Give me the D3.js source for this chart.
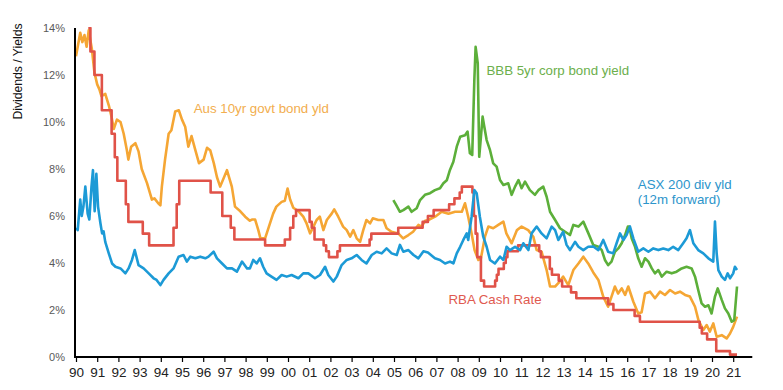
<!DOCTYPE html>
<html>
<head>
<meta charset="utf-8">
<script src="https://cdn.jsdelivr.net/npm/d3@7"></script>
<style>
html,body{margin:0;padding:0;background:#fff;}
svg{display:block;font-family:Arial,"Liberation Sans",sans-serif;}
</style>
</head>
<body>
<svg id="chart" width="783" height="390"></svg>
<script>
// ---- Data (decimal years, % values) ----
const yearTicks = d3.range(1990, 2022);
const yTicks = [0, 2, 4, 6, 8, 10, 12, 14];

const bondDates = [1990.0,1990.1,1990.2,1990.3,1990.4,1990.5,1990.6,1990.75,1990.87,1991.0,1991.1,1991.2,1991.38,1991.55,1991.68,1991.78,1991.93,1992.1,1992.25,1992.4,1992.47,1992.6,1992.8,1992.95,1993.1,1993.35,1993.58,1993.7,1993.87,1993.98,1994.05,1994.2,1994.37,1994.5,1994.68,1994.85,1995.0,1995.15,1995.3,1995.45,1995.63,1995.8,1996.02,1996.18,1996.33,1996.5,1996.65,1996.8,1997.12,1997.35,1997.5,1997.75,1997.98,1998.2,1998.3,1998.45,1998.6,1998.7,1998.92,1999.1,1999.3,1999.45,1999.7,1999.85,1999.98,2000.1,2000.25,2000.5,2000.72,2000.87,2001.04,2001.2,2001.35,2001.5,2001.67,2001.83,2002.06,2002.18,2002.37,2002.6,2002.77,2002.93,2003.08,2003.24,2003.4,2003.55,2003.7,2003.87,2004.0,2004.26,2004.5,2004.65,2004.88,2005.2,2005.43,2005.68,2005.9,2006.15,2006.3,2006.47,2006.62,2006.94,2007.25,2007.57,2007.88,2008.2,2008.35,2008.5,2008.66,2008.8,2008.98,2009.1,2009.29,2009.45,2009.68,2009.92,2010.16,2010.3,2010.55,2010.8,2011.02,2011.33,2011.57,2011.73,2011.96,2012.2,2012.36,2012.6,2012.75,2012.98,2013.22,2013.46,2013.7,2013.93,2014.16,2014.4,2014.64,2014.87,2015.1,2015.26,2015.42,2015.57,2015.74,2015.9,2016.05,2016.29,2016.52,2016.68,2016.84,2017.08,2017.31,2017.55,2017.78,2018.02,2018.26,2018.49,2018.73,2018.96,2019.2,2019.36,2019.59,2019.75,2019.9,2020.06,2020.22,2020.46,2020.69,2020.85,2021.0,2021.18];
const bondValues = [12.8,13.3,13.8,13.4,13.7,13.2,13.9,13.1,12.1,11.6,11.4,11.1,11.2,10.7,10.2,9.7,10.1,10.0,9.5,8.8,8.4,8.95,9.1,8.75,8.0,7.4,6.7,6.75,6.55,6.45,7.25,8.4,9.5,9.65,10.45,10.5,10.1,9.8,8.95,9.4,8.8,8.25,8.4,8.9,8.8,8.25,7.65,7.25,7.95,7.25,6.4,6.2,5.97,5.8,5.85,5.85,5.4,5.05,5.05,5.55,6.1,6.4,6.6,6.65,7.17,6.7,6.35,6.2,5.97,5.7,5.26,5.55,5.83,5.97,5.4,5.83,6.1,6.28,5.97,5.55,5.4,5.12,5.4,5.05,4.9,5.4,5.83,5.69,5.9,5.83,5.83,5.48,5.33,5.26,5.05,5.19,5.33,5.62,5.55,5.8,5.83,5.97,6.18,6.1,6.18,6.18,6.54,5.97,5.26,4.55,4.13,4.2,5.12,5.55,5.48,5.62,5.76,5.26,4.84,5.4,5.55,5.4,5.12,4.55,4.48,3.7,3.0,3.0,3.14,3.42,3.06,3.7,3.98,4.27,3.98,3.6,3.28,2.57,2.14,2.57,3.0,2.7,2.92,2.64,3.0,2.35,1.85,1.9,2.7,2.78,2.5,2.78,2.64,2.85,2.7,2.78,2.64,2.57,2.14,1.57,1.15,1.36,1.08,1.43,0.86,0.93,0.79,1.0,1.28,1.72];

const divDates = [1990.0,1990.08,1990.2,1990.27,1990.35,1990.44,1990.55,1990.63,1990.73,1990.8,1990.88,1990.96,1991.04,1991.15,1991.23,1991.3,1991.38,1991.55,1991.7,1991.86,1992.1,1992.33,1992.48,1992.64,1992.77,1992.95,1993.19,1993.43,1993.66,1993.8,1993.98,1994.13,1994.37,1994.6,1994.84,1995.07,1995.23,1995.39,1995.63,1995.86,1996.1,1996.25,1996.49,1996.65,1996.89,1997.12,1997.36,1997.59,1997.83,1998.07,1998.2,1998.36,1998.52,1998.68,1998.83,1998.99,1999.22,1999.46,1999.7,1999.94,2000.17,2000.49,2000.72,2000.96,2001.27,2001.51,2001.75,2001.9,2002.14,2002.3,2002.53,2002.77,2003.0,2003.24,2003.47,2003.7,2003.95,2004.18,2004.42,2004.65,2004.89,2005.13,2005.28,2005.44,2005.68,2005.92,2006.15,2006.39,2006.6,2006.8,2006.93,2007.17,2007.41,2007.64,2007.8,2007.96,2008.12,2008.27,2008.43,2008.5,2008.66,2008.79,2008.9,2009.05,2009.21,2009.37,2009.53,2009.76,2010.0,2010.16,2010.31,2010.47,2010.71,2010.95,2011.1,2011.34,2011.49,2011.73,2011.96,2012.2,2012.44,2012.6,2012.75,2012.98,2013.14,2013.3,2013.54,2013.7,2013.93,2014.16,2014.4,2014.64,2014.87,2015.1,2015.34,2015.5,2015.66,2015.82,2015.97,2016.13,2016.29,2016.52,2016.76,2017.0,2017.23,2017.47,2017.7,2017.94,2018.17,2018.41,2018.64,2018.8,2018.96,2019.12,2019.35,2019.59,2019.83,2020.06,2020.14,2020.22,2020.3,2020.46,2020.61,2020.74,2020.85,2021.0,2021.08,2021.18];
const divValues = [5.5,5.4,6.7,6.0,6.4,7.25,6.1,5.85,7.25,7.95,6.2,7.8,6.4,5.7,5.26,5.35,4.9,4.4,3.98,3.84,3.77,3.56,3.77,4.13,4.55,3.91,3.77,3.56,3.35,3.28,3.06,3.28,3.56,3.77,4.27,4.34,4.06,4.27,4.2,4.27,4.2,4.27,4.48,4.2,3.98,3.77,3.77,3.63,4.06,3.77,3.77,4.13,3.98,4.2,3.84,3.56,3.42,3.28,3.49,3.42,3.49,3.35,3.56,3.56,3.35,3.49,3.84,3.49,3.21,3.42,3.91,4.13,4.2,4.34,4.13,3.98,4.34,4.48,4.41,4.62,4.41,4.34,4.77,4.48,4.55,4.34,4.2,4.5,4.45,4.3,4.2,4.13,3.98,4.06,3.98,4.41,4.69,4.98,5.26,4.98,5.97,7.1,6.97,5.97,5.12,4.69,4.13,3.98,4.27,4.13,4.69,4.55,4.69,4.55,4.84,4.55,5.26,5.55,5.26,5.05,5.55,5.4,4.98,5.33,4.77,4.55,4.9,4.69,4.55,4.69,4.7,4.55,4.98,4.48,4.41,4.84,5.26,4.98,5.19,5.55,5.05,4.48,4.62,4.48,4.62,4.55,4.62,4.55,4.69,4.55,4.84,5.05,5.4,4.84,4.55,4.41,4.2,4.06,5.76,4.41,3.7,3.42,3.28,3.56,3.35,3.56,3.84,3.7];

const corpDates = [2004.97,2005.1,2005.28,2005.44,2005.68,2005.83,2006.07,2006.23,2006.46,2006.7,2006.93,2007.17,2007.33,2007.49,2007.64,2007.8,2007.96,2008.12,2008.35,2008.47,2008.58,2008.69,2008.79,2008.85,2008.95,2009.02,2009.1,2009.18,2009.26,2009.37,2009.53,2009.68,2009.84,2010.0,2010.16,2010.39,2010.55,2010.71,2010.87,2011.02,2011.18,2011.41,2011.65,2011.81,2012.04,2012.2,2012.36,2012.6,2012.83,2013.07,2013.3,2013.46,2013.7,2013.93,2014.17,2014.4,2014.64,2014.8,2014.95,2015.1,2015.26,2015.42,2015.58,2015.74,2015.9,2016.03,2016.1,2016.21,2016.37,2016.52,2016.68,2016.84,2017.0,2017.16,2017.31,2017.47,2017.63,2017.86,2018.1,2018.33,2018.57,2018.8,2019.04,2019.2,2019.35,2019.51,2019.67,2019.83,2019.98,2020.14,2020.27,2020.46,2020.61,2020.77,2020.93,2021.05,2021.18];
const corpValues = [6.68,6.47,6.18,6.25,6.4,6.18,6.33,6.68,6.9,6.97,7.1,7.18,7.39,7.52,7.96,8.31,8.95,9.37,9.44,9.59,8.67,8.6,11.8,13.2,12.5,8.52,9.37,10.23,9.8,9.23,8.8,8.24,8.1,7.53,7.32,7.39,6.9,7.25,7.53,7.18,7.46,7.1,6.9,7.1,7.25,6.82,6.18,5.83,5.48,5.33,5.19,5.62,5.55,5.76,5.26,4.77,4.69,4.55,4.13,3.91,4.06,4.48,4.62,4.84,5.19,5.55,5.55,5.05,4.69,4.2,3.84,4.2,4.06,3.77,3.56,3.7,3.42,3.63,3.56,3.63,3.77,3.84,3.77,3.42,2.85,2.28,2.14,2.2,1.85,2.57,2.92,2.43,2.07,1.85,1.5,1.57,3.0];

// RBA cash rate: date at which each new rate takes effect
const cashDates = [1990.58,1990.68,1990.87,1991.22,1991.68,1991.83,1991.95,1992.35,1992.47,1993.15,1993.45,1994.6,1994.75,1994.87,1996.35,1996.9,1997.3,1997.47,1998.92,1999.85,2000.1,2000.25,2000.38,2001.02,2001.12,2001.25,2001.68,2001.8,2001.93,2002.33,2002.45,2003.85,2003.93,2005.2,2006.35,2006.6,2006.87,2007.6,2007.85,2008.1,2008.2,2008.7,2008.77,2008.85,2008.93,2009.1,2009.25,2009.77,2009.85,2009.93,2010.18,2010.27,2010.35,2010.85,2011.85,2011.93,2012.35,2012.45,2012.77,2012.93,2013.35,2013.6,2015.1,2015.35,2016.35,2016.6,2019.42,2019.52,2019.77,2020.2,2020.85,2021.18];
const cashValues = [14.0,13.0,12.0,10.5,9.5,8.5,7.5,6.5,5.75,5.25,4.75,5.5,6.5,7.5,7.0,6.0,5.5,5.0,4.75,5.0,5.5,6.0,6.25,5.75,5.5,5.0,4.75,4.5,4.25,4.5,4.75,5.0,5.25,5.5,5.75,6.0,6.25,6.5,6.75,7.0,7.25,7.0,6.0,5.25,4.25,3.25,3.0,3.25,3.5,3.75,4.0,4.25,4.5,4.75,4.5,4.25,3.75,3.5,3.25,3.0,2.75,2.5,2.25,2.0,1.75,1.5,1.25,1.0,0.75,0.25,0.1,0.1];

// ---- Chart ----
const svg = d3.select("#chart");
const x = d3.scaleLinear().domain([1990, 2022]).range([76, 754.4]);
const y = d3.scaleLinear().domain([0, 14]).range([357, 28]);

const zip = (ds, vs) => ds.map((d, i) => ({t: d, v: vs[i]}));

const series = [
  {name: "bond", data: zip(bondDates, bondValues), color: "#F5A634", curve: d3.curveLinear},
  {name: "corp", data: zip(corpDates, corpValues), color: "#5CAF3A", curve: d3.curveLinear},
  {name: "cash", data: zip(cashDates, cashValues), color: "#E05248", curve: d3.curveStepAfter},
  {name: "div",  data: zip(divDates, divValues),  color: "#1C9AD6", curve: d3.curveLinear}
];

svg.append("defs").append("clipPath").attr("id", "clip")
  .append("rect").attr("x", x(1990)).attr("y", y(14) - 1)
  .attr("width", x(2022) - x(1990)).attr("height", y(0) - y(14) + 1);

const g = svg.append("g").attr("clip-path", "url(#clip)");
series.forEach(s => {
  g.append("path")
    .datum(s.data)
    .attr("fill", "none")
    .attr("stroke", s.color)
    .attr("stroke-width", 2.6)
    .attr("stroke-linejoin", "round")
    .attr("d", d3.line().x(d => x(d.t)).y(d => y(d.v)).curve(s.curve));
});

// Y axis
const yAxis = svg.append("g").attr("transform", `translate(${x(1990) - 1},0)`)
  .call(d3.axisLeft(y).tickValues(yTicks).tickFormat(d => d + "%").tickSize(0).tickPadding(10));
yAxis.select(".domain").remove();
yAxis.selectAll("text").attr("fill", "#595959").style("font-size", "11px")
  .style("font-family", "Arial, 'Liberation Sans', sans-serif");
svg.append("line").attr("x1", x(1990) - 1).attr("x2", x(1990) - 1)
  .attr("y1", y(14)).attr("y2", y(0) + 1)
  .attr("stroke", "#000").attr("stroke-width", 2);

// X axis
const xAxis = svg.append("g").attr("transform", `translate(0,${y(0)})`)
  .call(d3.axisBottom(x).tickValues(yearTicks)
    .tickFormat(d => String(d % 100).padStart(2, "0")).tickSize(5).tickPadding(5));
xAxis.select(".domain").remove();
xAxis.selectAll("line").attr("stroke", "#000").attr("stroke-width", 1.2);
xAxis.selectAll("text").attr("fill", "#222").style("font-size", "13.5px")
  .style("font-family", "Arial, 'Liberation Sans', sans-serif");
svg.append("line").attr("x1", x(1990) - 2).attr("x2", x(2021.9))
  .attr("y1", y(0)).attr("y2", y(0))
  .attr("stroke", "#000").attr("stroke-width", 2);

// Axis title
svg.append("text")
  .attr("transform", "translate(22,71.5) rotate(-90)")
  .attr("text-anchor", "middle")
  .attr("fill", "#111")
  .style("font-size", "12.2px")
  .text("Dividends / Yields");

// Series labels
const labels = [
  {text: "Aus 10yr govt bond yld", t: 1995.55, v: 10.4, color: "#F2AE4E"},
  {text: "BBB 5yr corp bond yield", t: 2009.36, v: 12.0, color: "#6CAF4C"},
  {text: "ASX 200 div yld", t: 2016.5, v: 7.15, color: "#2C95CB"},
  {text: "(12m forward)", t: 2016.5, v: 6.5, color: "#2C95CB"},
  {text: "RBA Cash Rate", t: 2007.57, v: 2.25, color: "#DF5A50"}
];
svg.append("g").selectAll("text").data(labels).join("text")
  .attr("x", d => x(d.t)).attr("y", d => y(d.v))
  .attr("fill", d => d.color)
  .style("font-size", "13.3px")
  .text(d => d.text);
</script>
</body>
</html>
